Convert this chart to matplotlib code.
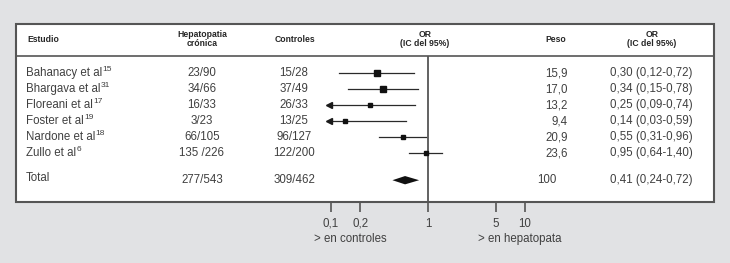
import matplotlib
matplotlib.use("Agg")
import matplotlib.pyplot as plt
import matplotlib.transforms as mtrans
from matplotlib.patches import Rectangle
import numpy as np

# ---------------- data ----------------
studies = ["Bahanacy et al", "Bhargava et al", "Floreani et al",
           "Foster et al", "Nardone et al", "Zullo et al"]
refs = ["15", "31", "17", "19", "18", "6"]
hepatopatia = ["23/90", "34/66", "16/33", "3/23", "66/105", "135 /226"]
controles = ["15/28", "37/49", "26/33", "13/25", "96/127", "122/200"]
peso = [15.9, 17.0, 13.2, 9.4, 20.9, 23.6]
or_vals = [0.30, 0.34, 0.25, 0.14, 0.55, 0.95]
ci_low = [0.12, 0.15, 0.09, 0.03, 0.31, 0.64]
ci_high = [0.72, 0.78, 0.74, 0.59, 0.96, 1.40]

total_label = "Total"
total_hep = "277/543"
total_ctrl = "309/462"
total_peso = 100
total_or = 0.41
total_low = 0.24
total_high = 0.72
# diamond as drawn in the reference picture (low, centre, high)
total_diamond = [0.43, 0.58, 0.81]

tick_values = [0.1, 0.2, 1, 5, 10]
tick_labels = ["0,1", "0,2", "1", "5", "10"]
ci_clip = 0.095  # lower display limit (arrows)

# ---------------- styles / layout ----------------
W, H = 730, 263
BG = "#e1e2e4"
TXT = "#404040"
HDR = "#262626"
LINE = "#555555"
marker_px = [5.6, 6.6, 4.6, 4.2, 4.2, 4.2]

plt.rcParams["font.family"] = ["Liberation Sans", "DejaVu Sans"]

fig = plt.figure(figsize=(W / 100, H / 100), dpi=100, facecolor=BG)


def fx(px):
    return px / W


def fy(py):
    return 1 - py / H


# white box
box_l, box_r, box_t, box_b = 16, 714, 24, 202
hdr_line = 56
fig.patches.append(Rectangle((fx(box_l), fy(box_b)), fx(box_r - box_l),
                             (box_b - box_t) / H, transform=fig.transFigure,
                             facecolor="white", edgecolor=LINE, lw=1.5,
                             zorder=-5))
fig.lines.append(plt.Line2D([fx(box_l), fx(box_r)], [fy(hdr_line)] * 2,
                            transform=fig.transFigure, color=LINE, lw=1.2,
                            zorder=-4))

# forest axes (covers box below header)
ax = fig.add_axes([fx(box_l), fy(box_b), fx(box_r - box_l),
                   (box_b - hdr_line) / H])
ax.set_zorder(5)
ax.patch.set_visible(False)
x_one, px_dec = 428, 97.0
ax.set_xscale("log")
ax.set_xlim(10 ** ((box_l - x_one) / px_dec), 10 ** ((box_r - x_one) / px_dec))
row0, row_h = 73, 16.0
ax.set_ylim((box_b - row0) / row_h, (hdr_line - row0) / row_h)
for s in ax.spines.values():
    s.set_visible(False)
ax.set_yticks([])
ax.set_xticks(tick_values)
ax.set_xticklabels(tick_labels)
ax.xaxis.set_minor_locator(matplotlib.ticker.NullLocator())
ax.tick_params(axis="x", direction="out", length=7, width=1.2, color=LINE,
               labelsize=8.3, labelcolor=TXT, pad=4.5)

ax.axvline(1, color=LINE, lw=1.3, zorder=1)

rows = np.arange(len(studies))
total_row = 6.7

for i, (o, lo, hi) in enumerate(zip(or_vals, ci_low, ci_high)):
    if lo < ci_clip:
        ax.plot([ci_clip, hi], [i, i], color="#2a2a2a", lw=0.9, zorder=2)
        ax.plot([ci_clip], [i], marker="<", ms=4.4, color="#1a1a1a",
                zorder=3)
    else:
        ax.plot([lo, hi], [i, i], color="#2a2a2a", lw=0.9, zorder=2)
    ax.plot([o], [i], marker="s", ms=marker_px[i] * 0.72, color="#111111",
            lw=0, zorder=4)

dl, dm, dh = total_diamond
ax.fill([dl, dm, dh, dm], [total_row, total_row - 0.26, total_row,
                            total_row + 0.26], color="#111111", lw=0,
        zorder=4)

# table text
tr = mtrans.blended_transform_factory(fig.transFigure, ax.transData)
fs = 8.3
for i in rows:
    name = ax.text(fx(26), i, studies[i], transform=tr,
                   ha="left", va="center", fontsize=fs, color=TXT)
    ax.annotate(refs[i], xy=(1.0, 0.8), xycoords=name,
                xytext=(0.1, 0), textcoords="offset points",
                ha="left", va="center", fontsize=6.0, color=TXT)
    ax.text(fx(202), i, hepatopatia[i], transform=tr, ha="center",
            va="center", fontsize=fs, color=TXT)
    ax.text(fx(294), i, controles[i], transform=tr, ha="center",
            va="center", fontsize=fs, color=TXT)
    ax.text(fx(568), i, f"{peso[i]:.1f}".replace(".", ","), transform=tr,
            ha="right", va="center", fontsize=fs, color=TXT)
    s = f"{or_vals[i]:.2f} ({ci_low[i]:.2f}-{ci_high[i]:.2f})".replace(".", ",")
    ax.text(fx(610), i, s, transform=tr, ha="left", va="center",
            fontsize=fs, color=TXT)

ax.text(fx(26), total_row - 0.15, total_label, transform=tr, ha="left",
        va="center", fontsize=fs, color=TXT)
ax.text(fx(202), total_row, total_hep, transform=tr, ha="center",
        va="center", fontsize=fs, color=TXT)
ax.text(fx(294), total_row, total_ctrl, transform=tr, ha="center",
        va="center", fontsize=fs, color=TXT)
ax.text(fx(557), total_row, f"{total_peso}", transform=tr, ha="right",
        va="center", fontsize=fs, color=TXT)
s = f"{total_or:.2f} ({total_low:.2f}-{total_high:.2f})".replace(".", ",")
ax.text(fx(610), total_row, s, transform=tr, ha="left", va="center",
        fontsize=fs, color=TXT)

# header
hfs = 6.2
hy = fy(39)
fig.text(fx(27), hy, "Estudio", ha="left", va="center", fontsize=hfs,
         fontweight="bold", color=HDR)
fig.text(fx(202), hy, "Hepatopatia\ncrónica", ha="center", va="center",
         fontsize=hfs, fontweight="bold", color=HDR, linespacing=1.0)
fig.text(fx(295), hy, "Controles", ha="center", va="center", fontsize=hfs,
         fontweight="bold", color=HDR)
fig.text(fx(425), hy, "OR\n(IC del 95%)", ha="center", va="center",
         fontsize=hfs, fontweight="bold", color=HDR, linespacing=1.0)
fig.text(fx(556), hy, "Peso", ha="center", va="center", fontsize=hfs,
         fontweight="bold", color=HDR)
fig.text(fx(652), hy, "OR\n(IC del 95%)", ha="center", va="center",
         fontsize=hfs, fontweight="bold", color=HDR, linespacing=1.0)

# direction labels
fig.text(fx(350), fy(239), "> en controles", ha="center", va="center",
         fontsize=fs, color=TXT)
fig.text(fx(520), fy(239), "> en hepatopata", ha="center", va="center",
         fontsize=fs, color=TXT)

fig.savefig("out.png", dpi=100, facecolor=BG)
